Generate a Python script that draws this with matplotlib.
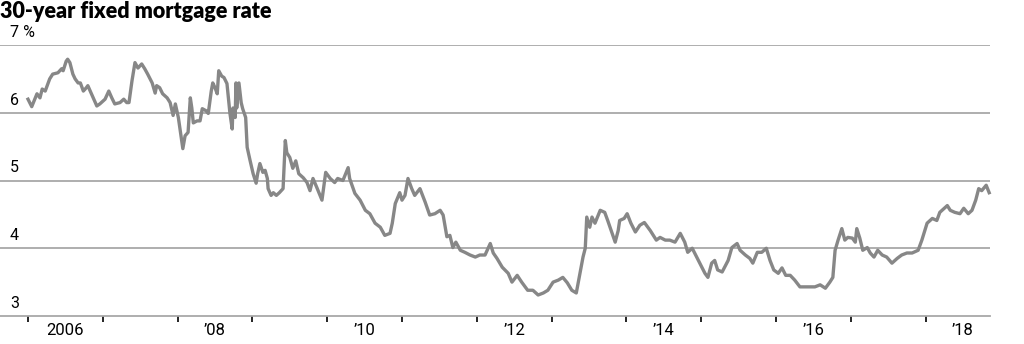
import matplotlib
matplotlib.use('Agg')
import matplotlib.pyplot as plt
from matplotlib.ticker import FixedLocator, FixedFormatter

# 30-year fixed mortgage rate (decimal year, percent)
years = [
    2006.00, 2006.05, 2006.12, 2006.16, 2006.19, 2006.23, 2006.29, 2006.33, 2006.40, 2006.45,
    2006.47, 2006.51, 2006.53, 2006.56, 2006.60, 2006.63, 2006.67, 2006.70, 2006.74, 2006.78,
    2006.80, 2006.86, 2006.92, 2006.96, 2007.03, 2007.08, 2007.12, 2007.16, 2007.23, 2007.28,
    2007.32, 2007.35, 2007.39, 2007.43, 2007.47, 2007.52, 2007.56, 2007.60, 2007.66, 2007.70,
    2007.72, 2007.76, 2007.80, 2007.86, 2007.90, 2007.94, 2007.97, 2008.01, 2008.05, 2008.07,
    2008.10, 2008.14, 2008.17, 2008.19, 2008.21, 2008.26, 2008.30, 2008.33, 2008.38, 2008.41,
    2008.45, 2008.47, 2008.50, 2008.53, 2008.55, 2008.59, 2008.62, 2008.66, 2008.67, 2008.70,
    2008.73, 2008.74, 2008.77, 2008.78, 2008.79, 2008.82, 2008.85, 2008.87, 2008.91, 2008.93,
    2008.97, 2009.01, 2009.05, 2009.07, 2009.10, 2009.14, 2009.17, 2009.20, 2009.21, 2009.25,
    2009.28, 2009.32, 2009.36, 2009.41, 2009.44, 2009.46, 2009.50, 2009.54, 2009.58, 2009.62,
    2009.68, 2009.73, 2009.77, 2009.81, 2009.86, 2009.93, 2009.98, 2010.04, 2010.10, 2010.14,
    2010.21, 2010.28, 2010.30, 2010.37, 2010.44, 2010.51, 2010.57, 2010.64, 2010.71, 2010.77,
    2010.84, 2010.87, 2010.91, 2010.97, 2011.00, 2011.04, 2011.08, 2011.13, 2011.17, 2011.24,
    2011.31, 2011.37, 2011.44, 2011.51, 2011.55, 2011.60, 2011.64, 2011.68, 2011.72, 2011.78,
    2011.84, 2011.91, 2011.98, 2012.04, 2012.11, 2012.18, 2012.22, 2012.27, 2012.34, 2012.42,
    2012.47, 2012.54, 2012.60, 2012.68, 2012.75, 2012.82, 2012.89, 2012.95, 2013.02, 2013.09,
    2013.15, 2013.21, 2013.27, 2013.33, 2013.38, 2013.42, 2013.45, 2013.47, 2013.51, 2013.54,
    2013.58, 2013.65, 2013.71, 2013.75, 2013.81, 2013.85, 2013.89, 2013.91, 2013.97, 2014.01,
    2014.06, 2014.12, 2014.18, 2014.24, 2014.32, 2014.40, 2014.45, 2014.52, 2014.58, 2014.65,
    2014.72, 2014.78, 2014.82, 2014.88, 2014.94, 2014.98, 2015.05, 2015.09, 2015.14, 2015.18,
    2015.22, 2015.28, 2015.36, 2015.41, 2015.48, 2015.52, 2015.59, 2015.65, 2015.69, 2015.75,
    2015.81, 2015.87, 2015.92, 2015.97, 2016.03, 2016.08, 2016.13, 2016.19, 2016.25, 2016.32,
    2016.39, 2016.45, 2016.52, 2016.59, 2016.66, 2016.72, 2016.76, 2016.79, 2016.83, 2016.88,
    2016.92, 2016.96, 2017.02, 2017.06, 2017.08, 2017.12, 2017.16, 2017.22, 2017.26, 2017.31,
    2017.36, 2017.42, 2017.48, 2017.55, 2017.62, 2017.68, 2017.75, 2017.82, 2017.90, 2017.95,
    2018.02, 2018.09, 2018.15, 2018.19, 2018.25, 2018.29, 2018.33, 2018.39, 2018.46, 2018.51,
    2018.57, 2018.62, 2018.67, 2018.71, 2018.75, 2018.81, 2018.85,
]
rates = [
    6.20, 6.09, 6.28, 6.22, 6.35, 6.32, 6.50, 6.57, 6.59, 6.65,
    6.62, 6.76, 6.79, 6.74, 6.57, 6.50, 6.44, 6.44, 6.32, 6.37,
    6.40, 6.25, 6.10, 6.13, 6.20, 6.32, 6.22, 6.13, 6.15, 6.20,
    6.15, 6.15, 6.47, 6.74, 6.66, 6.72, 6.65, 6.57, 6.44, 6.29,
    6.40, 6.37, 6.28, 6.22, 6.15, 5.96, 6.13, 5.93, 5.63, 5.47,
    5.66, 5.71, 6.22, 6.07, 5.85, 5.88, 5.88, 6.06, 6.03, 5.99,
    6.32, 6.44, 6.37, 6.28, 6.62, 6.54, 6.52, 6.43, 6.32, 5.99,
    5.76, 6.07, 5.93, 6.44, 6.07, 6.44, 6.15, 6.06, 5.93, 5.49,
    5.29, 5.10, 4.96, 5.10, 5.25, 5.12, 5.15, 5.03, 4.88, 4.78,
    4.82, 4.78, 4.82, 4.88, 5.59, 5.41, 5.34, 5.18, 5.29, 5.10,
    5.04, 4.97, 4.85, 5.03, 4.90, 4.71, 5.12, 5.03, 4.97, 5.03,
    5.00, 5.19, 5.03, 4.81, 4.71, 4.56, 4.51, 4.37, 4.31, 4.19,
    4.22, 4.37, 4.66, 4.82, 4.71, 4.78, 5.03, 4.88, 4.78, 4.88,
    4.68, 4.49, 4.51, 4.56, 4.49, 4.17, 4.19, 4.01, 4.09, 3.97,
    3.94, 3.90, 3.87, 3.90, 3.90, 4.07, 3.93, 3.85, 3.72, 3.63,
    3.50, 3.60, 3.50, 3.38, 3.38, 3.31, 3.34, 3.38, 3.50, 3.53,
    3.57, 3.49, 3.38, 3.34, 3.63, 3.87, 4.00, 4.46, 4.31, 4.46,
    4.37, 4.56, 4.53, 4.41, 4.22, 4.09, 4.26, 4.41, 4.44, 4.51,
    4.37, 4.24, 4.34, 4.38, 4.26, 4.12, 4.16, 4.12, 4.12, 4.09,
    4.22, 4.09, 3.94, 4.00, 3.87, 3.78, 3.63, 3.57, 3.78, 3.82,
    3.68, 3.65, 3.82, 4.01, 4.07, 3.97, 3.90, 3.85, 3.78, 3.94,
    3.94, 4.00, 3.82, 3.68, 3.63, 3.71, 3.60, 3.60, 3.53, 3.43,
    3.43, 3.43, 3.43, 3.46, 3.41, 3.50, 3.57, 3.97, 4.12, 4.29,
    4.12, 4.16, 4.15, 4.09, 4.29, 4.15, 3.97, 4.01, 3.93, 3.87,
    3.97, 3.90, 3.87, 3.78, 3.85, 3.90, 3.93, 3.93, 3.97, 4.12,
    4.37, 4.44, 4.41, 4.53, 4.59, 4.63, 4.56, 4.53, 4.51, 4.59,
    4.51, 4.56, 4.71, 4.88, 4.85, 4.93, 4.82,
]

y_ticks = [3, 4, 5, 6, 7]
y_labels = ['3', '4', '5', '6', '7 %']
year_ticks = list(range(2006, 2019))
label_years = [2006, 2008, 2010, 2012, 2014, 2016, 2018]
x_labels = ['2006', '\u201908', '\u201910', '\u201912', '\u201914', '\u201916', '\u201918']

plt.rcParams['font.family'] = ['Roboto', 'DejaVu Sans']

fig = plt.figure(figsize=(10.24, 3.44), dpi=100)
ax = fig.add_axes([0.0, 1 - 316 / 344, 990 / 1024, (316 - 45) / 344])

line_grey = '#878787'
grid_grey = '#a8a8a8'

ax.plot(years, rates, color=line_grey, linewidth=2.4, solid_joinstyle='round', clip_on=False, zorder=3)

ax.set_xlim(2006 - 28 / 74.8, 2006 + 962 / 74.8)
ax.set_ylim(3, 7)

# horizontal grid lines
for v in y_ticks[1:]:
    ax.axhline(v, color=grid_grey, linewidth=1.3, zorder=1)

for s in ['top', 'left', 'right']:
    ax.spines[s].set_visible(False)
ax.spines['bottom'].set_color(grid_grey)
ax.spines['bottom'].set_linewidth(1.3)

ax.set_yticks([])

# year ticks at year starts, labels centred in the year
ax.xaxis.set_major_locator(FixedLocator(year_ticks))
ax.xaxis.set_major_formatter(FixedFormatter([''] * len(year_ticks)))
ax.xaxis.set_minor_locator(FixedLocator([y + 0.5 for y in label_years]))
ax.xaxis.set_minor_formatter(FixedFormatter(x_labels))
ax.tick_params(axis='x', which='major', length=4, width=1.2, color='black', direction='out')
ax.tick_params(axis='x', which='minor', length=0, pad=5, labelsize=12, labelcolor='black')

# y labels sit above the grid lines at the left
for v, lab in zip(y_ticks, y_labels):
    ax.annotate(lab, xy=(0, v), xycoords=('axes fraction', 'data'),
                xytext=(10, 5), textcoords='offset pixels',
                ha='left', va='bottom', fontsize=11.5, color='black')

fig.text(0.0, 0.998, '30-year fixed mortgage rate', ha='left', va='top',
         fontsize=15.5, fontweight='heavy', color='black', family=['Lato', 'DejaVu Sans'])

fig.savefig('out.png', dpi=100)
